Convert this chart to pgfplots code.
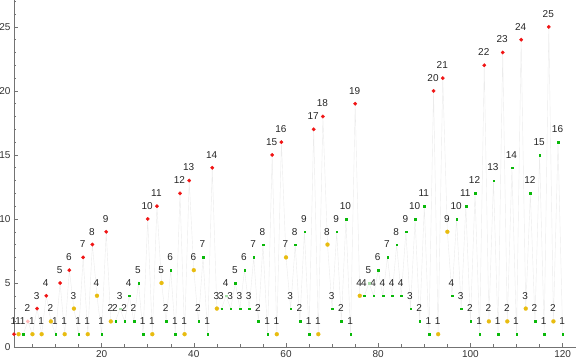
\documentclass[border=0pt]{standalone}
\usepackage{pgfplots}
\pgfplotsset{compat=1.18}
\usepackage{fontspec}
\setmainfont{Liberation Sans}
\definecolor{mred}{RGB}{240,20,20}
\definecolor{mgold}{RGB}{232,188,16}
\definecolor{mgreen}{RGB}{10,185,10}
\definecolor{mpink}{RGB}{255,185,185}
\definecolor{mlgreen}{RGB}{165,222,165}
\pgfplotsset{
  lab/.style={nodes near coords, point meta=y,
    every node near coord/.append style={anchor=center, yshift=13pt, xshift=-0.5pt, inner sep=0pt, font=\fontsize{10}{12}\selectfont, text=black!85}},
}
\begin{document}
\begin{tikzpicture}
\begin{axis}[name=ax, scale only axis, width=562pt, height=347pt,
 xmin=1, xmax=122.9, ymin=0, ymax=27.1,
 axis lines*=left, clip=false,
 axis line style={black!55, line width=0.6pt},
 tick align=inside, tick style={black!55, line width=0.5pt},
 major tick length=4pt, minor tick length=2.5pt,
 xtick={20,40,...,120}, minor xtick={5,10,...,120},
 ytick={0,5,...,25}, minor ytick={1,2,...,27},
 ticklabel style={font=\fontsize{10}{12}\selectfont, text=black!80},
 /pgf/number format/assume math mode=true,
]
\addplot[black!8, line width=0.4pt, no marks] coordinates {
(1,1)(2,1)(3,1)(4,2)(5,1)(6,3)(7,1)(8,4)(9,2)(10,1)(11,5)(12,1)(13,6)(14,3)(15,1)(16,7)(17,1)(18,8)(19,4)(20,1)
(21,9)(22,2)(23,2)(24,3)(25,2)(26,4)(27,2)(28,5)(29,1)(30,10)(31,1)(32,11)(33,5)(34,2)(35,6)(36,1)(37,12)(38,1)(39,13)(40,6)
(41,2)(42,7)(43,1)(44,14)(45,3)(46,3)(47,4)(48,3)(49,5)(50,3)(51,6)(52,3)(53,7)(54,2)(55,8)(56,1)(57,15)(58,1)(59,16)(60,7)
(61,3)(62,8)(63,2)(64,9)(65,1)(66,17)(67,1)(68,18)(69,8)(70,3)(71,9)(72,2)(73,10)(74,1)(75,19)(76,4)(77,4)(78,5)(79,4)(80,6)
(81,4)(82,7)(83,4)(84,8)(85,4)(86,9)(87,3)(88,10)(89,2)(90,11)(91,1)(92,20)(93,1)(94,21)(95,9)(96,4)(97,10)(98,3)(99,11)(100,2)
(101,12)(102,1)(103,22)(104,2)(105,13)(106,1)(107,23)(108,2)(109,14)(110,1)(111,24)(112,3)(113,12)(114,2)(115,15)(116,1)(117,25)(118,2)(119,16)(120,1)
};
% green
\addplot[mgreen, only marks, mark=square*, mark size=0.8pt, mark options={draw=mgreen, fill=mgreen, line width=0.2pt}, lab] coordinates {
(3,1)(10,1)(15,1)(20,1)(23,2)(25,2)(26,4)(27,2)(28,5)(29,1)(34,2)(35,6)(36,1)(41,2)(42,7)(43,1)
(46,3)(48,3)(49,5)(50,3)(51,6)(52,3)(53,7)(54,2)(55,8)(56,1)(61,3)(62,8)(63,2)(64,9)(65,1)
(70,3)(71,9)(72,2)(73,10)(74,1)(77,4)(79,4)(80,6)(81,4)(82,7)(83,4)(84,8)(85,4)(86,9)(87,3)(88,10)(89,2)(90,11)(91,1)
(96,4)(97,10)(98,3)(99,11)(100,2)(101,12)(102,1)(105,13)(106,1)(109,14)(110,1)(113,12)(114,2)(115,15)(116,1)(119,16)(120,1)
};
% faint green
\addplot[mlgreen, only marks, mark=square*, mark size=0.8pt, mark options={draw=mlgreen, fill=mlgreen, line width=0.2pt}, lab] coordinates {
(24,3)(47,4)(78,5)
};
% gold
\addplot[mgold, only marks, mark=*, mark size=2pt, mark options={draw=mgold, fill=mgold, line width=0.2pt}, lab] coordinates {
(2,1)(5,1)(7,1)(9,2)(12,1)(14,3)(17,1)(19,4)(22,2)(31,1)(33,5)(38,1)(40,6)(45,3)(58,1)(60,7)
(67,1)(69,8)(76,4)(93,1)(95,9)(104,2)(108,2)(112,3)(118,2)
};
% red
\addplot[mred, only marks, mark=*, mark size=1.8pt, mark options={draw=mred, fill=mred, line width=0.2pt}, lab] coordinates {
(1,1)(6,3)(8,4)(11,5)(13,6)(16,7)(18,8)(21,9)(30,10)(32,11)(37,12)(39,13)(44,14)(57,15)(59,16)
(66,17)(68,18)(75,19)(92,20)(94,21)(103,22)(107,23)(111,24)(117,25)
};
% pink
\addplot[mpink, only marks, mark=*, mark size=1.8pt, mark options={draw=mpink, fill=mpink, line width=0.2pt}, lab] coordinates {
(4,2)
};
\end{axis}
\pgfresetboundingbox
\path ([xshift=-14pt,yshift=-17pt]ax.south west) rectangle (ax.north east);
\end{tikzpicture}
\end{document}
